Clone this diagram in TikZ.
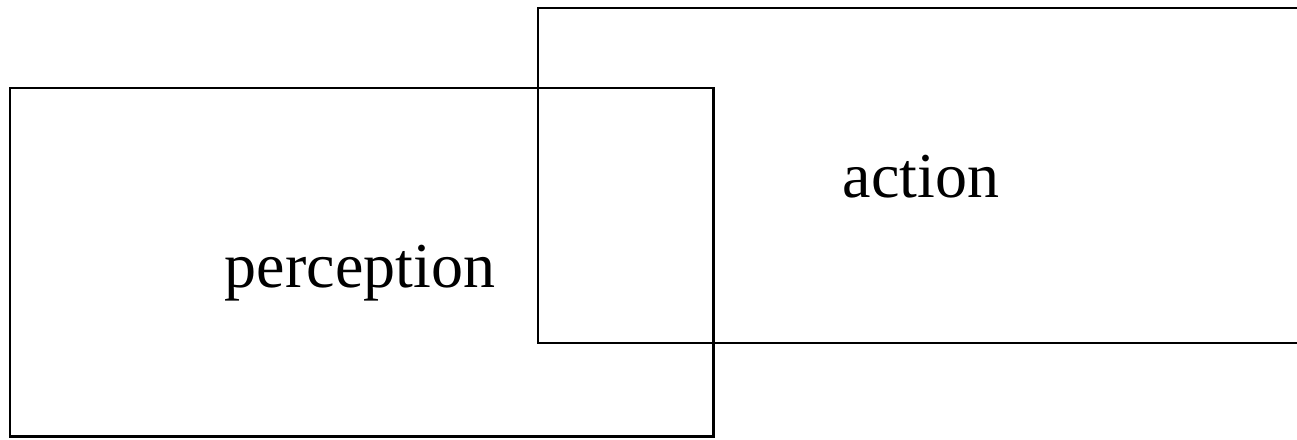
\documentclass[tikz,border=0pt]{standalone}
\usepackage{fontspec}
\setmainfont{Liberation Serif}
\begin{document}
\begin{tikzpicture}[x=1pt,y=-1pt,
  box/.style={draw=black,line width=2.6pt,fill=none},
  lbl/.style={anchor=base,inner sep=0pt,font=\fontsize{64}{64}\selectfont}]
\useasboundingbox (0,0) rectangle (1297,439);
\draw[box] (10,88) rectangle (713.5,436.5);
\draw[box] (538,8) rectangle (1302,343);
\node[lbl] (perception) at (360,287) {perception};
\node[lbl] (action) at (921,197) {action};
\end{tikzpicture}
\end{document}
